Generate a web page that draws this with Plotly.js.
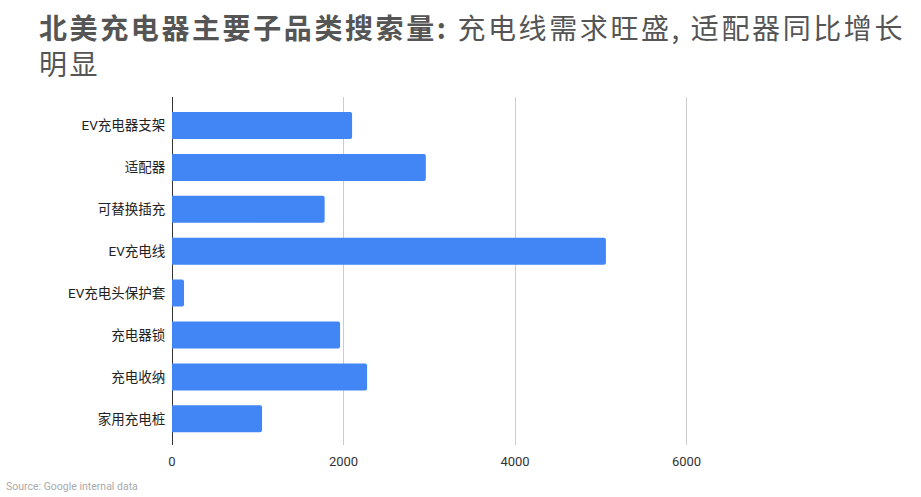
<!DOCTYPE html>
<html>
<head>
<meta charset="utf-8">
<script src="https://cdn.plot.ly/plotly-3.0.1.min.js"></script>
<style>
  html, body { margin: 0; padding: 0; background: #fff; }
  #chart { width: 921px; height: 497px; }
  /* the reference title is set loosely, so open it up a little */
  #chart .gtitle { letter-spacing: 2.6px; }
</style>
</head>
<body>
<div id="chart"></div>
<script>
// categories, top to bottom
var categories = ['EV充电器支架', '适配器', '可替换插充', 'EV充电线', 'EV充电头保护套', '充电器锁', '充电收纳', '家用充电桩']
var searchVolume = [2100, 2960, 1780, 5060, 140, 1960, 2275, 1050]
var xTicks = [0, 2000, 4000, 6000]

var fontFamily = "Roboto, 'Noto Sans CJK SC', sans-serif"

var trace = {
    type: 'bar',
    orientation: 'h',
    x: searchVolume,
    y: categories,
    marker: { color: '#4285F4', cornerradius: 2 },
    hoverinfo: 'x+y'
}

var layout = {
    width: 921,
    height: 497,
    paper_bgcolor: '#fff',
    plot_bgcolor: '#fff',
    margin: { l: 172, r: 63, t: 97, b: 52 },
    bargap: 0.355,
    showlegend: false,
    font: { family: fontFamily, color: '#222', size: 13 },
    title: {
        text: '<b>北美充电器主要子品类搜索量:</b> 充电线需求旺盛, 适配器同比增长<br>明显',
        font: { family: "'Noto Sans CJK SC', sans-serif", size: 28, color: '#555' },
        xref: 'container', yref: 'container',
        x: 39 / 921, xanchor: 'left',
        y: 1 - 39 / 497, yanchor: 'top'
    },
    xaxis: {
        range: [0, 8000],
        tickvals: xTicks,
        ticktext: xTicks.map(String),
        showgrid: true,
        gridcolor: '#cccccc',
        zeroline: true,
        zerolinecolor: '#333333',
        zerolinewidth: 1,
        showline: false,
        ticks: 'outside',
        ticklen: 4,
        tickcolor: 'rgba(0,0,0,0)',
        tickfont: { size: 13, color: '#333' },
        fixedrange: true
    },
    yaxis: {
        type: 'category',
        categoryorder: 'array',
        categoryarray: categories,
        range: [7.625, -0.68],
        showgrid: false,
        zeroline: false,
        showline: false,
        ticks: 'outside',
        ticklen: 3,
        tickcolor: 'rgba(0,0,0,0)',
        tickfont: { size: 13.5, color: '#222' },
        fixedrange: true
    },
    annotations: [{
        text: 'Source: Google internal data',
        xref: 'paper', yref: 'paper',
        x: -172 / 686, y: -42 / 348,
        xanchor: 'left', yanchor: 'middle',
        xshift: 4,
        showarrow: false,
        font: { family: fontFamily, size: 10.5, color: '#aaaaaa' }
    }]
}

Plotly.newPlot('chart', [trace], layout, { displayModeBar: false, staticPlot: true })
</script>
</body>
</html>
